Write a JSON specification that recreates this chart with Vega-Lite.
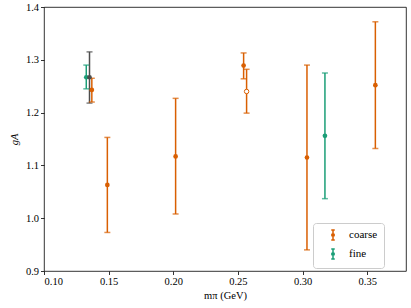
{
  "$schema": "https://vega.github.io/schema/vega-lite/v6.json",
  "width": 362,
  "height": 264,
  "autosize": "none",
  "padding": {"left": 44, "top": 7, "right": 5, "bottom": 37},
  "background": "white",
  "config": {
    "view": {"stroke": "black", "strokeWidth": 0.8},
    "font": "Liberation Serif",
    "legend": {"labelFont": "Liberation Serif"},
    "axis": {
      "grid": false, "domain": false, "tickColor": "black", "tickSize": 3.5, "tickWidth": 0.8,
      "labelColor": "black", "labelFont": "Liberation Serif", "labelFontSize": 10.5,
      "titleFont": "Liberation Serif", "titleFontSize": 10.5, "titleFontWeight": "normal", "titleColor": "black"
    }
  },
  "data": {
    "values": [
      {"series": "fine", "variant": "solid", "m": 0.1327, "g": 1.267, "lo": 1.245, "hi": 1.290},
      {"series": "physical", "variant": "solid", "m": 0.1352, "g": 1.267, "lo": 1.218, "hi": 1.315},
      {"series": "coarse", "variant": "solid", "m": 0.1370, "g": 1.243, "lo": 1.220, "hi": 1.265},
      {"series": "coarse", "variant": "solid", "m": 0.1490, "g": 1.063, "lo": 0.973, "hi": 1.153},
      {"series": "coarse", "variant": "solid", "m": 0.2018, "g": 1.117, "lo": 1.008, "hi": 1.227},
      {"series": "coarse", "variant": "solid", "m": 0.2544, "g": 1.289, "lo": 1.264, "hi": 1.313},
      {"series": "coarse", "variant": "open", "m": 0.2567, "g": 1.240, "lo": 1.199, "hi": 1.282},
      {"series": "coarse", "variant": "solid", "m": 0.3034, "g": 1.115, "lo": 0.940, "hi": 1.290},
      {"series": "fine", "variant": "solid", "m": 0.3173, "g": 1.156, "lo": 1.037, "hi": 1.275},
      {"series": "coarse", "variant": "solid", "m": 0.3563, "g": 1.252, "lo": 1.132, "hi": 1.372}
    ]
  },
  "layer": [
    {
      "mark": {"type": "rule", "strokeWidth": 1.5},
      "encoding": {
        "x": {"field": "m", "type": "quantitative", "scale": {"domain": [0.10, 0.38], "nice": false, "zero": false},
              "axis": {"values": [0.10, 0.15, 0.20, 0.25, 0.30, 0.35], "format": ".2f", "title": "mπ (GeV)", "titlePadding": 3, "labelPadding": 2}},
        "y": {"field": "lo", "type": "quantitative", "scale": {"domain": [0.9, 1.4], "nice": false, "zero": false},
              "axis": {"values": [0.9, 1.0, 1.1, 1.2, 1.3, 1.4], "format": ".1f", "title": "gA", "titleFontStyle": "italic", "titlePadding": 6, "labelPadding": 2}},
        "y2": {"field": "hi"},
        "color": {"field": "series", "type": "nominal",
                  "scale": {"domain": ["coarse", "fine", "physical"], "range": ["#d95f02", "#1b9e77", "#4d4d4d"]},
                  "legend": {
                    "values": ["coarse", "fine"], "title": null, "orient": "none", "legendX": 269, "legendY": 216,
                    "fillColor": "white", "strokeColor": "#cccccc", "cornerRadius": 3, "padding": 6,
                    "labelFont": "Liberation Serif", "labelFontSize": 11, "labelColor": "black", "labelOffset": 10,
                    "symbolOffset": 8, "rowPadding": 3, "symbolSize": 100,
                    "symbolType": "M0,-1V1M-0.35,-1H0.35M-0.35,1H0.35M0.25,0A0.25,0.25 0 1,1 -0.25,0A0.25,0.25 0 1,1 0.25,0Z",
                    "encode": {"symbols": {"update": {"stroke": {"scale": "color", "field": "value"}, "fill": {"scale": "color", "field": "value"}, "strokeWidth": {"value": 1.5}}}}
                  }}
      }
    },
    {
      "mark": {"type": "tick", "orient": "horizontal", "size": 6, "thickness": 1.5},
      "encoding": {
        "x": {"field": "m", "type": "quantitative"},
        "y": {"field": "lo", "type": "quantitative"},
        "color": {"field": "series", "type": "nominal"}
      }
    },
    {
      "mark": {"type": "tick", "orient": "horizontal", "size": 6, "thickness": 1.5},
      "encoding": {
        "x": {"field": "m", "type": "quantitative"},
        "y": {"field": "hi", "type": "quantitative"},
        "color": {"field": "series", "type": "nominal"}
      }
    },
    {
      "transform": [{"filter": "datum.variant === 'solid'"}],
      "mark": {"type": "point", "filled": true, "shape": "circle", "size": 22, "opacity": 1},
      "encoding": {
        "x": {"field": "m", "type": "quantitative"},
        "y": {"field": "g", "type": "quantitative"},
        "color": {"field": "series", "type": "nominal"}
      }
    },
    {
      "transform": [{"filter": "datum.variant === 'open'"}],
      "mark": {"type": "point", "filled": false, "fill": "white", "shape": "circle", "size": 20, "strokeWidth": 1, "opacity": 1},
      "encoding": {
        "x": {"field": "m", "type": "quantitative"},
        "y": {"field": "g", "type": "quantitative"},
        "color": {"field": "series", "type": "nominal"}
      }
    }
  ]
}
